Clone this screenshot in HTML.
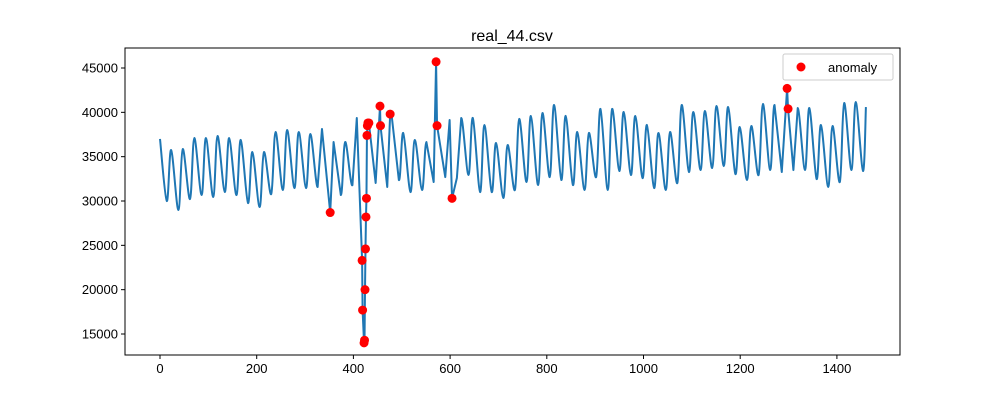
<!DOCTYPE html>
<html><head><meta charset="utf-8"><style>
html,body{margin:0;padding:0;background:#fff;}
svg{display:block;font-family:"Liberation Sans","DejaVu Sans",sans-serif;}
</style></head><body>
<svg id="chart" width="1000" height="400" viewBox="0 0 1000 400">
<rect width="1000" height="400" fill="#fff"/>
<text x="512" y="41" font-size="16" text-anchor="middle" fill="#000">real_44.csv</text>
<g id="series"></g>
<g id="anoms"></g>
<g id="axes"></g>
<g>
<rect x="783" y="54" width="110" height="26" fill="#fff" stroke="#ccc" rx="2"/>
<circle cx="801" cy="67" r="4.5" fill="red"/>
<text x="828" y="72" font-size="13" fill="#000">anomaly</text>
</g>
</svg>
<script>
const peakValues=[35750,35860,37100,37100,37330,37100,36880,35520,35520,37780,38010,37780,37560,38120,
36650,36650,39360,38910,39700,39700,37670,36880,36650,38570,39130,39360,39360,38570,
36540,36310,39250,39590,39920,40830,39590,37780,37670,40380,40380,40040,39590,38570,37670,37780,40830,
40040,40150,40710,40600,38340,38460,40940,40830,40490,40490,40490,38570,38460,41050,41160];
const troughValues=[30000,28980,30220,30670,30450,31010,30670,29770,29320,30780,31240,31460,31460,31580,
31800,30670,31800,31240,32030,31580,32370,31010,31240,32140,32700,32590,32930,31010,
31010,30340,31240,32140,31800,32700,32370,31800,31240,32700,31240,33380,32930,32590,31460,31240,32030,
33270,33490,33720,33940,33040,32370,32930,33490,33270,33490,33490,32480,31580,32140,33490,33380];
const startValue=37000;
const endValue=40600;
const anomalyIdx=[352,418,419,422,423,424,425,426,427,428,429,430,432,455,456,476,571,573,604,1297,1299];
const anomalyVal=[28700,23300,17700,14000,14300,20000,24600,28200,30300,37400,38500,38800,38800,40700,38500,39800,45700,38500,30300,42700,40400];
const xTicks=[0,200,400,600,800,1000,1200,1400];
const yTicks=[15000,20000,25000,30000,35000,40000,45000];

const L=125,R=900,T=48,B=355;
const xMin=-72.4,xMax=1530.5,yMin=12632,yMax=47256;
const X=v=>L+(v-xMin)/(xMax-xMin)*(R-L);
const Y=v=>B-(v-yMin)/(yMax-yMin)*(B-T);
const NS="http://www.w3.org/2000/svg";

let pts=[[0,startValue,0]];
for(let k=0;k<troughValues.length;k++){
  pts.push([14+24*k,troughValues[k],0]);
  if(k<peakValues.length) pts.push([23+24*k,peakValues[k],0]);
}
pts.push([1460,endValue,0]);
pts=pts.filter(p=>!anomalyIdx.some(a=>Math.abs(a-p[0])<3));
for(let i=0;i<anomalyIdx.length;i++) pts.push([anomalyIdx[i],anomalyVal[i],1]);
pts.sort((a,b)=>a[0]-b[0]);
let d="M"+X(pts[0][0]).toFixed(2)+","+Y(pts[0][1]).toFixed(2);
for(let i=0;i<pts.length-1;i++){
  const p0=pts[Math.max(0,i-1)],p1=pts[i],p2=pts[i+1],p3=pts[Math.min(pts.length-1,i+2)];
  const x0=X(p0[0]),y0=Y(p0[1]),x1=X(p1[0]),y1=Y(p1[1]),x2=X(p2[0]),y2=Y(p2[1]),x3=X(p3[0]),y3=Y(p3[1]);
  if(p1[2]||p2[2]||p0[2]||p3[2]){d+="L"+x2.toFixed(2)+","+y2.toFixed(2);continue;}
  const c1x=x1+(x2-x0)/6,c1y=y1+(y2-y0)/6,c2x=x2-(x3-x1)/6,c2y=y2-(y3-y1)/6;
  d+="C"+c1x.toFixed(2)+","+c1y.toFixed(2)+" "+c2x.toFixed(2)+","+c2y.toFixed(2)+" "+x2.toFixed(2)+","+y2.toFixed(2);
}
const line=document.createElementNS(NS,"path");


line.setAttribute("d",d);line.setAttribute("fill","none");line.setAttribute("stroke","#1f77b4");
line.setAttribute("stroke-width","2");line.setAttribute("stroke-linejoin","round");
document.getElementById("series").appendChild(line);

const ag=document.getElementById("anoms");
for(let i=0;i<anomalyIdx.length;i++){
  const c=document.createElementNS(NS,"circle");
  
  
  c.setAttribute("cx",X(anomalyIdx[i]));c.setAttribute("cy",Y(anomalyVal[i]));
  c.setAttribute("r","4.5");c.setAttribute("fill","red");
  ag.appendChild(c);
}

const ax=document.getElementById("axes");
const frame=document.createElementNS(NS,"rect");


frame.setAttribute("x",L);frame.setAttribute("y",T);frame.setAttribute("width",R-L);frame.setAttribute("height",B-T);
frame.setAttribute("fill","none");frame.setAttribute("stroke","#000");frame.setAttribute("stroke-width","1");
ax.appendChild(frame);
for(const t of xTicks){
  const x=X(t);
  const tk=document.createElementNS(NS,"line");
  
  
  tk.setAttribute("x1",x);tk.setAttribute("x2",x);tk.setAttribute("y1",B);tk.setAttribute("y2",B+4);tk.setAttribute("stroke","#000");
  ax.appendChild(tk);
  const tx=document.createElementNS(NS,"text");
  
  
  tx.setAttribute("x",x);tx.setAttribute("y",B+18);tx.setAttribute("font-size","13");tx.setAttribute("text-anchor","middle");
  tx.textContent=t;ax.appendChild(tx);
}
for(const t of yTicks){
  const y=Y(t);
  const tk=document.createElementNS(NS,"line");
  
  
  tk.setAttribute("x1",L-4);tk.setAttribute("x2",L);tk.setAttribute("y1",y);tk.setAttribute("y2",y);tk.setAttribute("stroke","#000");
  ax.appendChild(tk);
  const tx=document.createElementNS(NS,"text");
  
  
  tx.setAttribute("x",L-7);tx.setAttribute("y",y+4.5);tx.setAttribute("font-size","13");tx.setAttribute("text-anchor","end");
  tx.textContent=t;ax.appendChild(tx);
}
</script>
</body></html>
